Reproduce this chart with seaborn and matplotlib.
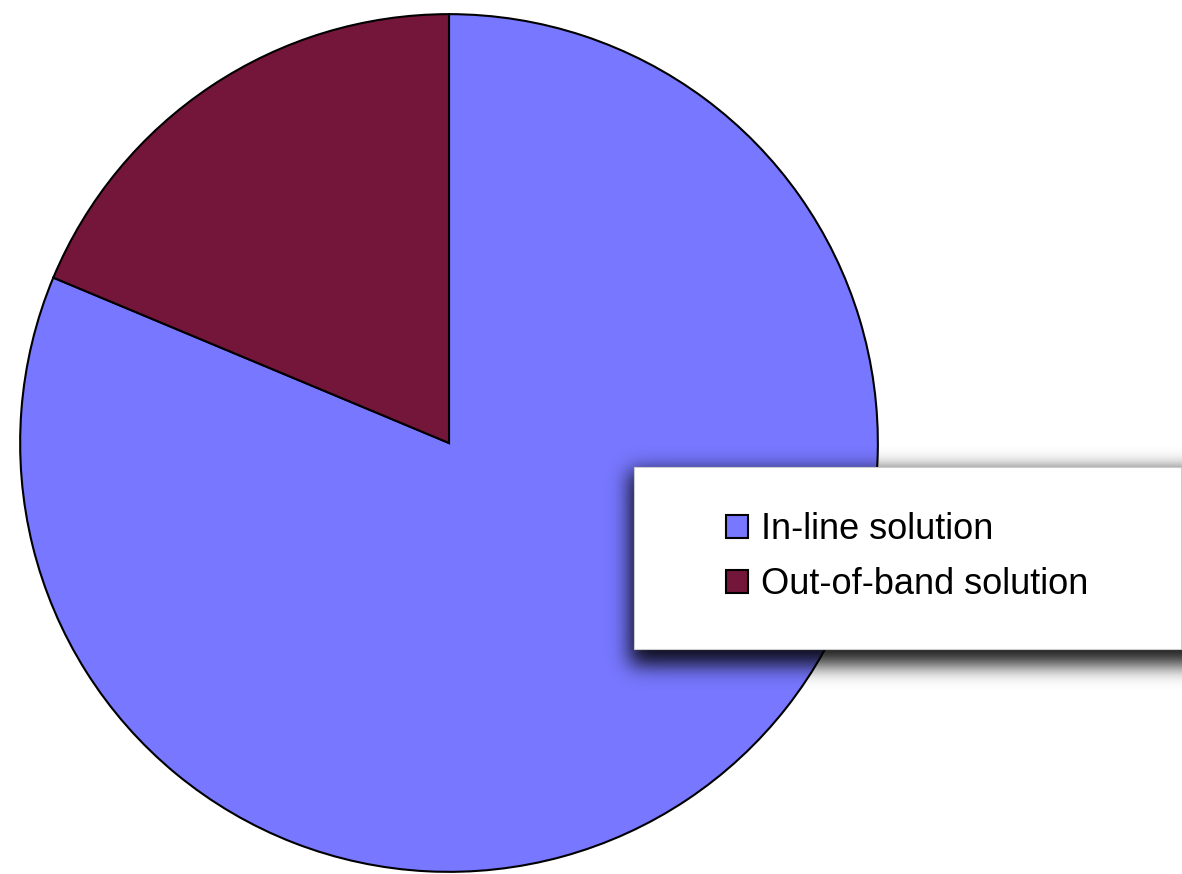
import math
import matplotlib
matplotlib.use("Agg")
import matplotlib.pyplot as plt
import matplotlib.patches as mpatches
import numpy as np
import seaborn as sns

sns.set_theme(style="white")
plt.rcParams["font.family"] = ["Liberation Sans", "DejaVu Sans"]

labels = ["In-line solution", "Out-of-band solution"]
shares = [81.3, 18.7]
colors = sns.color_palette(["#7777FF", "#74163A"])

W, H = 1182, 874
fig = plt.figure(figsize=(W / 100, H / 100), dpi=100)
fig.patch.set_facecolor("white")

# pie box in pixels: centre (449, 443), radius 431
cx, cy, r = 449, 443, 431
ax = fig.add_axes([(cx - r) / W, (H - cy - r) / H, 2 * r / W, 2 * r / H])
wedges, _ = ax.pie(
    shares,
    colors=colors,
    startangle=90,
    counterclock=False,
    wedgeprops=dict(edgecolor="black", linewidth=1.5),
)
ax.set_xlim(-1.005, 1.005)
ax.set_ylim(-1.005, 1.005)
ax.axis("off")

# legend box (pixel coords, top-left origin)
bx0, by0, bx1, by1 = 634, 467, 1181, 649

# soft blurred drop shadow
erf = np.vectorize(math.erf)


def blur_profile(t, a, b, s):
    return 0.5 * (erf((t - a) / (s * math.sqrt(2))) - erf((t - b) / (s * math.sqrt(2))))


sx0, sy0, sx1, sy1 = 570, 420, W, 730
xs = np.arange(sx0, sx1) + 0.5
ys = np.arange(sy0, sy1) + 0.5
px = blur_profile(xs, bx0 - 4, bx1 + 40, 10)
py = blur_profile(ys, by0 + 4, by1 + 16, 10)
shadow = np.zeros((len(ys), len(xs), 4))
shadow[..., 3] = 0.9 * np.outer(py, px)
fig.figimage(shadow, xo=sx0, yo=H - sy1, origin="upper", zorder=5)

box = mpatches.Rectangle(
    (bx0 / W, (H - by1) / H), (bx1 - bx0) / W, (by1 - by0) / H,
    transform=fig.transFigure, facecolor="white",
    edgecolor="#cccccc", linewidth=0.8, zorder=6,
)
fig.add_artist(box)

handles = [
    mpatches.Patch(facecolor=c, edgecolor="black", linewidth=1.5, label=l)
    for c, l in zip(colors, labels)
]
leg = fig.legend(
    handles=handles,
    loc="upper left",
    bbox_to_anchor=(726 / W, (H - 512) / H),
    frameon=False,
    fontsize=26,
    labelcolor="black",
    handlelength=0.6,
    handleheight=0.6,
    handletextpad=0.36,
    labelspacing=0.56,
    borderpad=0,
    borderaxespad=0,
)
leg.set_zorder(7)

fig.savefig("out.png", dpi=100, facecolor="white")
